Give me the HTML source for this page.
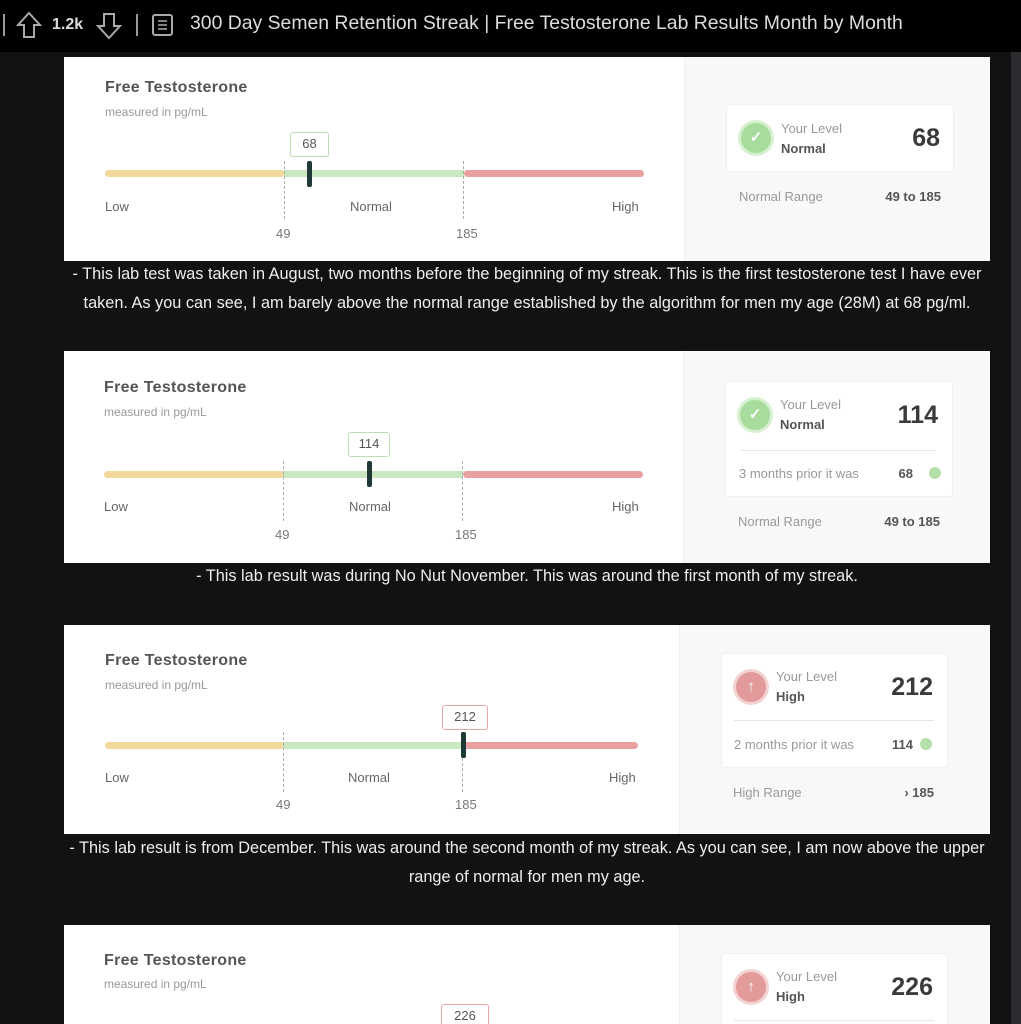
<!DOCTYPE html>
<html><head><meta charset="utf-8"><style>
*{margin:0;padding:0;box-sizing:border-box}
body{width:1021px;height:1024px;background:#121212;position:relative;overflow:hidden;font-family:"Liberation Sans",sans-serif}
.a{position:absolute;line-height:1;white-space:nowrap}
.card{position:absolute;left:64px;width:926px;background:#fff;overflow:hidden}
.rp{position:absolute;left:620px;top:0;width:306px;height:100%;background:#f8f8f8;border-left:1px solid #eee}
.t{font-size:16px;font-weight:bold;color:#555;letter-spacing:.3px}
.s{font-size:12px;color:#999}
.lbl{font-size:13px;color:#666}
.num{font-size:13px;color:#777}
.bar{position:absolute;height:7px;border-radius:4px}
.dash{position:absolute;width:0;border-left:1px dashed #aaa}
.mk{position:absolute;width:5px;height:26px;background:#1f3a36;border-radius:2px}
.box{position:absolute;height:25px;border:1.5px solid #b9e0b0;border-radius:3px;background:#fff;font-size:13px;color:#555;text-align:center;line-height:22px}
.ib{position:absolute;background:#fff;border:1px solid #f0f0f0;border-radius:3px}
.ic{position:absolute;width:30px;height:30px;border-radius:50%;color:#fff;text-align:center;line-height:30px;font-size:15px;font-weight:bold}
.yl{font-size:13px;color:#999}
.lv{font-size:13px;color:#555;font-weight:bold}
.big{font-size:25px;font-weight:bold;color:#3a3a3a}
.cap{position:absolute;left:64px;width:926px;text-align:center;color:#eee;font-size:16.3px;line-height:1}
.cap span{display:inline-block;white-space:nowrap}
</style></head><body>
<!-- header -->
<div class="a" style="left:0;top:0;width:1021px;height:52px;background:#000"></div>
<div class="a" style="left:3px;top:14px;width:2px;height:22px;background:#999"></div>
<svg class="a" style="left:16px;top:11px" width="26" height="28"><path d="M13 2 L24 14 H18 V26 H8 V14 H2 Z" fill="none" stroke="#aaa" stroke-width="2"/></svg>
<div class="a" style="left:52px;top:17px;font-size:16px;font-weight:bold;color:#ddd">1.2k</div>
<svg class="a" style="left:96px;top:12px" width="26" height="28"><path d="M13 26 L24 14 H18 V2 H8 V14 H2 Z" fill="none" stroke="#aaa" stroke-width="2"/></svg>
<div class="a" style="left:136px;top:14px;width:2px;height:22px;background:#999"></div>
<svg class="a" style="left:152px;top:14px" width="21" height="22"><rect x="1" y="1" width="19" height="20" rx="2" fill="none" stroke="#aaa" stroke-width="2"/><path d="M6 7H15M6 11H15M6 15H15" stroke="#aaa" stroke-width="1.6"/></svg>
<div class="a" style="left:190px;top:14px;font-size:19.4px;color:#ddd">300 Day Semen Retention Streak | Free Testosterone Lab Results Month by Month</div>
<div class="a" style="left:1011px;top:52px;width:10px;height:972px;background:#2a2c30"></div>

<!-- card 1 -->
<div class="card" style="top:57px;height:204px">
  <div class="a t" style="left:41px;top:23px">Free Testosterone</div>
  <div class="a s" style="left:41px;top:49px">measured in pg/mL</div>
  <div class="bar" style="left:41px;top:113px;width:180px;background:#f2d89a"></div>
  <div class="bar" style="left:220px;top:113px;width:180px;background:#c9e8c0;border-radius:0"></div>
  <div class="bar" style="left:400px;top:113px;width:180px;background:#e8a0a0"></div>
  <div class="dash" style="left:220px;top:104px;height:58px"></div>
  <div class="dash" style="left:399px;top:104px;height:58px"></div>
  <div class="mk" style="left:243px;top:104px"></div>
  <div class="box" style="left:226px;top:75px;width:39px">68</div>
  <div class="a lbl" style="left:41px;top:143px">Low</div>
  <div class="a lbl" style="left:286px;top:143px">Normal</div>
  <div class="a lbl" style="left:548px;top:143px">High</div>
  <div class="a num" style="left:212px;top:170px">49</div>
  <div class="a num" style="left:392px;top:170px">185</div>
  <div class="rp">
    <div class="ib" style="left:41px;top:47px;width:228px;height:68px"></div>
    <div class="ic" style="left:56px;top:66px;background:#a8dc9c;box-shadow:0 0 0 3px #d6f0d0">✓</div>
    <div class="a yl" style="left:96px;top:65px">Your Level</div>
    <div class="a lv" style="left:96px;top:85px">Normal</div>
    <div class="a big" style="right:50px;top:69px">68</div>
    <div class="a" style="left:54px;top:133px;font-size:13px;color:#999">Normal Range</div>
    <div class="a" style="right:49px;top:133px;font-size:13px;color:#555;font-weight:bold">49 to 185</div>
  </div>
</div>
<div class="cap" style="top:266px"><span>- This lab test was taken in August, two months before the beginning of my streak. This is the first testosterone test I have ever</span></div>
<div class="cap" style="top:295px"><span>taken. As you can see, I am barely above the normal range established by the algorithm for men my age (28M) at 68 pg/ml.</span></div>

<!-- card 2 -->
<div class="card" style="top:351px;height:212px">
  <div class="a t" style="left:40px;top:29px">Free Testosterone</div>
  <div class="a s" style="left:40px;top:55px">measured in pg/mL</div>
  <div class="bar" style="left:40px;top:120px;width:180px;background:#f2d89a"></div>
  <div class="bar" style="left:219px;top:120px;width:180px;background:#c9e8c0;border-radius:0"></div>
  <div class="bar" style="left:399px;top:120px;width:180px;background:#e8a0a0"></div>
  <div class="dash" style="left:219px;top:110px;height:60px"></div>
  <div class="dash" style="left:398px;top:110px;height:60px"></div>
  <div class="mk" style="left:303px;top:110px"></div>
  <div class="box" style="left:284px;top:81px;width:42px">114</div>
  <div class="a lbl" style="left:40px;top:149px">Low</div>
  <div class="a lbl" style="left:285px;top:149px">Normal</div>
  <div class="a lbl" style="left:548px;top:149px">High</div>
  <div class="a num" style="left:211px;top:177px">49</div>
  <div class="a num" style="left:391px;top:177px">185</div>
  <div class="rp" style="left:619px;width:307px">
    <div class="ib" style="left:41px;top:30px;width:228px;height:116px"></div>
    <div class="ic" style="left:56px;top:49px;background:#a8dc9c;box-shadow:0 0 0 3px #d6f0d0">✓</div>
    <div class="a yl" style="left:96px;top:47px">Your Level</div>
    <div class="a lv" style="left:96px;top:67px">Normal</div>
    <div class="a big" style="right:52px;top:52px">114</div>
    <div class="a" style="left:56px;top:99px;width:196px;height:1px;background:#e6e6e6"></div>
    <div class="a" style="left:55px;top:116px;font-size:13px;color:#999">3 months prior it was</div>
    <div class="a" style="right:77px;top:116px;font-size:13px;color:#555;font-weight:bold">68</div>
    <div class="a" style="left:245px;top:116px;width:12px;height:12px;border-radius:50%;background:#b5e0ab"></div>
    <div class="a" style="left:54px;top:164px;font-size:13px;color:#999">Normal Range</div>
    <div class="a" style="right:50px;top:164px;font-size:13px;color:#555;font-weight:bold">49 to 185</div>
  </div>
</div>
<div class="cap" style="top:568px"><span>- This lab result was during No Nut November. This was around the first month of my streak.</span></div>

<!-- card 3 -->
<div class="card" style="top:625px;height:209px">
  <div class="a t" style="left:41px;top:28px">Free Testosterone</div>
  <div class="a s" style="left:41px;top:54px">measured in pg/mL</div>
  <div class="bar" style="left:41px;top:117px;width:179px;background:#f2d89a"></div>
  <div class="bar" style="left:219px;top:117px;width:180px;background:#c9e8c0;border-radius:0"></div>
  <div class="bar" style="left:399px;top:117px;width:175px;background:#e8a0a0"></div>
  <div class="dash" style="left:219px;top:107px;height:60px"></div>
  <div class="dash" style="left:398px;top:107px;height:60px"></div>
  <div class="mk" style="left:397px;top:107px"></div>
  <div class="box" style="left:378px;top:80px;width:46px;border-color:#e8a8a8">212</div>
  <div class="a lbl" style="left:41px;top:146px">Low</div>
  <div class="a lbl" style="left:284px;top:146px">Normal</div>
  <div class="a lbl" style="left:545px;top:146px">High</div>
  <div class="a num" style="left:212px;top:173px">49</div>
  <div class="a num" style="left:391px;top:173px">185</div>
  <div class="rp" style="left:615px;width:311px">
    <div class="ib" style="left:41px;top:28px;width:227px;height:115px"></div>
    <div class="ic" style="left:56px;top:47px;background:#e39a9a;box-shadow:0 0 0 3px #f3d2d2">↑</div>
    <div class="a yl" style="left:96px;top:45px">Your Level</div>
    <div class="a lv" style="left:96px;top:65px">High</div>
    <div class="a big" style="right:57px;top:50px">212</div>
    <div class="a" style="left:54px;top:95px;width:200px;height:1px;background:#e6e6e6"></div>
    <div class="a" style="left:54px;top:113px;font-size:13px;color:#999">2 months prior it was</div>
    <div class="a" style="right:77px;top:113px;font-size:13px;color:#555;font-weight:bold">114</div>
    <div class="a" style="left:240px;top:113px;width:12px;height:12px;border-radius:50%;background:#b5e0ab"></div>
    <div class="a" style="left:53px;top:161px;font-size:13px;color:#999">High Range</div>
    <div class="a" style="right:56px;top:161px;font-size:13px;color:#555;font-weight:bold">› 185</div>
  </div>
</div>
<div class="cap" style="top:840px"><span>- This lab result is from December. This was around the second month of my streak. As you can see, I am now above the upper</span></div>
<div class="cap" style="top:869px"><span>range of normal for men my age.</span></div>

<!-- card 4 -->
<div class="card" style="top:925px;height:99px">
  <div class="a t" style="left:40px;top:28px">Free Testosterone</div>
  <div class="a s" style="left:40px;top:53px">measured in pg/mL</div>
  <div class="box" style="left:377px;top:79px;width:48px;border-color:#e8a8a8">226</div>
  <div class="rp" style="left:615px;width:311px">
    <div class="ib" style="left:41px;top:28px;width:227px;height:90px"></div>
    <div class="ic" style="left:56px;top:47px;background:#e39a9a;box-shadow:0 0 0 3px #f3d2d2">↑</div>
    <div class="a yl" style="left:96px;top:45px">Your Level</div>
    <div class="a lv" style="left:96px;top:65px">High</div>
    <div class="a big" style="right:57px;top:50px">226</div>
    <div class="a" style="left:54px;top:95px;width:200px;height:1px;background:#e6e6e6"></div>
  </div>
</div>
</body></html>
